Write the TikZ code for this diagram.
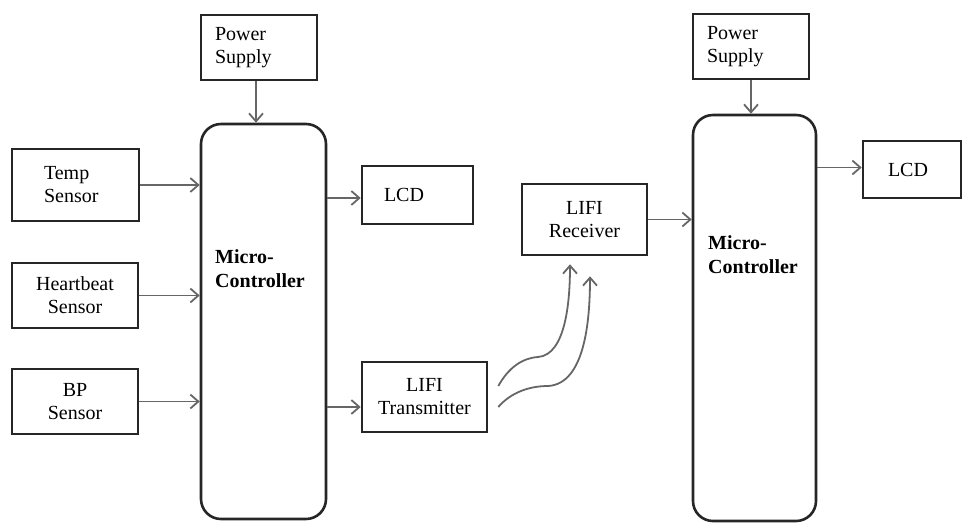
\documentclass[tikz,border=0pt]{standalone}
\usepackage{fontspec}
\setmainfont{Liberation Serif}
\usetikzlibrary{arrows.meta}
\begin{document}
\begin{tikzpicture}[x=1pt,y=-1pt,
  box/.style={draw=black!85, line width=2.6pt, align=center, inner sep=0pt,
    font=\fontsize{20}{23}\selectfont},
  mcu/.style={draw=black!85, line width=2.6pt, rounded corners=20pt},
  mcutext/.style={align=left, inner sep=0pt, anchor=base west,
    font=\fontsize{20}{24}\selectfont\bfseries},
  link/.style={draw=black!60, line width=1.8pt, -{Straight Barb[length=8pt,width=14pt]}}
]
\useasboundingbox (0,0) rectangle (963,523);

\node[box, minimum width=116pt, minimum height=65pt, text width=88pt, align=left] (powerA) at (259,47.5) {Power\\Supply};
\node[box, minimum width=127pt, minimum height=72pt, text width=63pt, align=left] (temp) at (75.5,185) {Temp\\Sensor};
\node[box, minimum width=126pt, minimum height=65pt] (heart) at (75,295.5) {Heartbeat\\Sensor};
\node[box, minimum width=126pt, minimum height=65pt] (bp) at (75,401.5) {BP\\Sensor};
\node[mcu, minimum width=125pt, minimum height=395pt] (mcuA) at (263.5,321.5) {};
\node[mcutext] (mcuAtext) at (215,287) {Micro-\\Controller};
\node[box, minimum width=111pt, minimum height=58pt, text width=67pt, align=left] (lcdA) at (417.5,195) {LCD};
\node[box, minimum width=125pt, minimum height=70pt] (tx) at (424.5,397) {LIFI\\Transmitter};

\node[box, minimum width=116pt, minimum height=65pt, text width=88pt, align=left] (powerB) at (751,46.5) {Power\\Supply};
\node[box, minimum width=125pt, minimum height=71pt] (rx) at (584.5,219.5) {LIFI\\Receiver};
\node[mcu, minimum width=123pt, minimum height=406pt] (mcuB) at (754.5,318) {};
\node[mcutext] (mcuBtext) at (708,273) {Micro-\\Controller};
\node[box, minimum width=98pt, minimum height=57pt, text width=48pt, align=left] (lcdB) at (912,169.5) {LCD};

\draw[link] ([xshift=-3pt]powerA.south) -- ([xshift=-3pt]powerA.south |- mcuA.north);
\draw[link] (temp.east) -- (temp.east -| mcuA.west);
\draw[link] (heart.east) -- (heart.east -| mcuA.west);
\draw[link] (bp.east) -- (bp.east -| mcuA.west);
\draw[link] ([yshift=-3pt]lcdA.west -| mcuA.east) -- ([yshift=-3pt]lcdA.west);
\draw[link] ([yshift=-10pt]tx.west -| mcuA.east) -- ([yshift=-10pt]tx.west);

\coordinate (waveAs) at ([xshift=10pt,yshift=11pt]tx.east);
\coordinate (waveBs) at ([xshift=10pt,yshift=-10pt]tx.east);
\coordinate (waveAe) at ([xshift=-14.5pt,yshift=-8pt]rx.south);
\coordinate (waveBe) at ([xshift=5.5pt,yshift=-20pt]rx.south);
\draw[link] (waveAs) .. controls +(10,-18) and (522,358) .. (538,357)
  .. controls (566,355) and (570,300) .. (waveAe);
\draw[link] (waveBs) .. controls +(13,-15) and (530,386) .. (548,386)
  .. controls (585,384) and (590,320) .. (waveBe);

\draw[link] (rx.east) -- (rx.east -| mcuB.west);
\draw[link] (powerB.south) -- (powerB.south |- mcuB.north);
\draw[link] ([yshift=2pt]lcdB.west -| mcuB.east) -- ([yshift=2pt]lcdB.west);
\end{tikzpicture}
\end{document}
